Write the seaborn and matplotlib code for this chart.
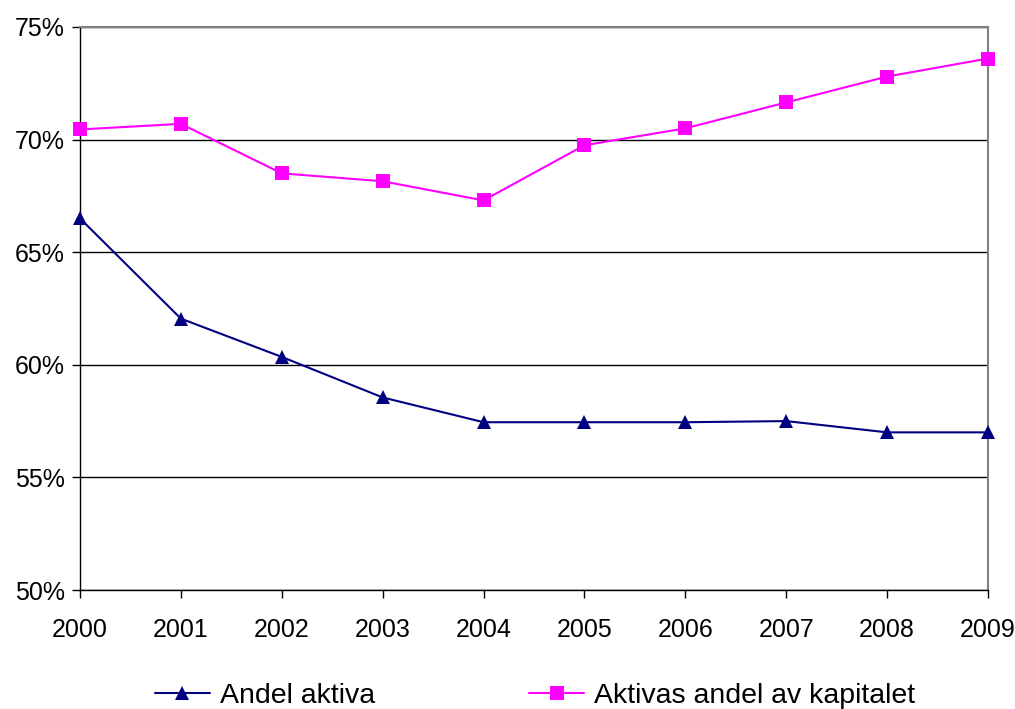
import numpy as np
import pandas as pd
import matplotlib
matplotlib.use("Agg")
import matplotlib.pyplot as plt
import seaborn as sns
from matplotlib.lines import Line2D
from matplotlib.ticker import FuncFormatter

years = [2000, 2001, 2002, 2003, 2004, 2005, 2006, 2007, 2008, 2009]
andel_aktiva = [66.5, 62.05, 60.35, 58.55, 57.45, 57.45, 57.45, 57.5, 57.0, 57.0]
aktivas_andel = [70.45, 70.7, 68.5, 68.15, 67.3, 69.75, 70.5, 71.65, 72.8, 73.6]
series_names = ["Andel aktiva", "Aktivas andel av kapitalet"]
colors = ["#000080", "#FF00FF"]
markers = ["^", "s"]

df = pd.DataFrame({
    "year": years * 2,
    "value": andel_aktiva + aktivas_andel,
    "series": [series_names[0]] * len(years) + [series_names[1]] * len(years),
})

sns.set_style("white")
plt.rcParams["font.family"] = ["Liberation Sans", "DejaVu Sans"]
plt.rcParams["text.color"] = "black"
plt.rcParams["xtick.color"] = "black"
plt.rcParams["ytick.color"] = "black"

fig = plt.figure(figsize=(10.15, 7.09), dpi=100)
ax = fig.add_axes([80 / 1015, 1 - 590 / 709, 908 / 1015, 563 / 709])

sns.lineplot(data=df, x="year", y="value", hue="series", style="series",
             palette=colors, markers=markers, dashes=False,
             markersize=10, linewidth=1.5, markeredgewidth=0, ax=ax, legend=False)
for line in ax.lines:
    line.set_clip_on(False)
    line.set_zorder(5)

ax.set_xlim(2000, 2009)
ax.set_ylim(50, 75)
ax.set_xticks(years)
ax.set_yticks(np.arange(50, 76, 5))
ax.yaxis.set_major_formatter(FuncFormatter(lambda v, p: f"{v:.0f}%"))
ax.grid(axis="y", color="black", linewidth=1)
ax.set_axisbelow(True)
ax.set_xlabel("")
ax.set_ylabel("")
ax.tick_params(axis="both", labelsize=18, length=6, width=1, color="black",
               labelcolor="black", direction="out", bottom=True, left=True)
ax.tick_params(axis="x", pad=14)
ax.tick_params(axis="y", pad=5)
for side in ["left", "bottom"]:
    ax.spines[side].set_color("black")
    ax.spines[side].set_linewidth(1)
for side in ["top", "right"]:
    ax.spines[side].set_color("#808080")
    ax.spines[side].set_linewidth(1.5)

handles = [Line2D([], [], color=c, marker=m, markersize=10, markeredgewidth=0, linewidth=1.5)
           for c, m in zip(colors, markers)]
ax.legend(handles, series_names, loc="upper center", bbox_to_anchor=(535 / 1015, 1 - 669 / 709),
          bbox_transform=fig.transFigure, ncol=2, frameon=False, fontsize=20.5,
          handlelength=1.95, handletextpad=0.35, columnspacing=5.4, borderpad=0)

fig.savefig("out.png", dpi=100)
